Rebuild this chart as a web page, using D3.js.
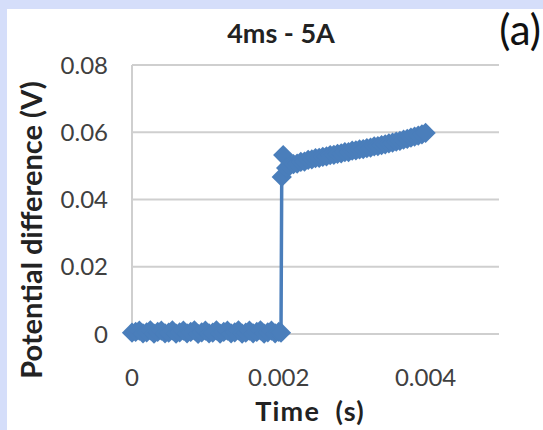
<!DOCTYPE html>
<html>
<head>
<meta charset="utf-8">
<script src="https://cdn.jsdelivr.net/npm/d3@7"></script>
<style>
html,body{margin:0;padding:0;background:#fff;}
svg{display:block;}
text{font-family:Lato,"Open Sans",sans-serif;}
</style>
</head>
<body>
<svg id="c" width="543" height="430"></svg>
<script>
const lowTimes = [0,0.00005,0.0001,0.00015,0.0002,0.00025,0.0003,0.00035,0.0004,0.00045,0.0005,0.00055,0.0006,0.00065,0.0007,0.00075,0.0008,0.00085,0.0009,0.00095,0.001,0.00105,0.0011,0.00115,0.0012,0.00125,0.0013,0.00135,0.0014,0.00145,0.0015,0.00155,0.0016,0.00165,0.0017,0.00175,0.0018,0.00185,0.0019,0.00195,0.002,0.00203];
const lowValues = [0.0004,0.0006,0.0010,0.0002,0.0005,0.0011,0.0001,0.0006,0.0010,0.0002,0.0004,0.0011,0.0001,0.0005,0.0010,0.0002,0.0006,0.0011,0.0000,0.0005,0.0010,0.0002,0.0004,0.0011,0.0001,0.0006,0.0010,0.0002,0.0005,0.0011,0.0001,0.0004,0.0010,0.0002,0.0006,0.0011,0.0001,0.0005,0.0010,0.0002,0.0006,0.0004];
const highTimes = [0.00204,0.00206,0.0021,0.00215,0.0022,0.00225,0.0023,0.00235,0.0024,0.00245,0.0025,0.00255,0.0026,0.00265,0.0027,0.00275,0.0028,0.00285,0.0029,0.00295,0.003,0.00305,0.0031,0.00315,0.0032,0.00325,0.0033,0.00335,0.0034,0.00345,0.0035,0.00355,0.0036,0.00365,0.0037,0.00375,0.0038,0.00385,0.0039,0.00395,0.004];
const highValues = [0.0467,0.0532,0.0494,0.0500,0.0505,0.0507,0.0512,0.0513,0.0518,0.0519,0.0523,0.0524,0.0527,0.0528,0.0532,0.0533,0.0536,0.0537,0.0541,0.0541,0.0545,0.0546,0.0549,0.0550,0.0553,0.0554,0.0558,0.0559,0.0562,0.0564,0.0567,0.0569,0.0572,0.0574,0.0578,0.0580,0.0584,0.0587,0.0590,0.0594,0.0598];
const xTicks = [0,0.002,0.004];
const xTickLabels = ["0","0.002","0.004"];
const yTicks = [0,0.02,0.04,0.06,0.08];
const yTickLabels = ["0","0.02","0.04","0.06","0.08"];
const title = "4ms - 5A";
const panelLabel = "(a)";
const xTitle = "Time  (s)";
const yTitle = "Potential difference (V)";

const times = lowTimes.concat(highTimes);
const values = lowValues.concat(highValues);
const data = times.map((t,i)=>({t, v: values[i]}));

const svg = d3.select("#c");
const W = 543, H = 430;
svg.append("rect").attr("width",W).attr("height",H).attr("fill","#d5defa");
svg.append("rect").attr("x",7).attr("y",9).attr("width",W-7).attr("height",H-9).attr("fill","#ffffff");

const x = d3.scaleLinear().domain([0,0.005]).range([132,499]);
const y = d3.scaleLinear().domain([0,0.08]).range([334,65]);

svg.append("g").selectAll("line").data(yTicks).join("line")
  .attr("x1",132).attr("x2",499)
  .attr("y1",d=>y(d)).attr("y2",d=>y(d))
  .attr("stroke","#cfcfcf").attr("stroke-width",2);
svg.append("line").attr("x1",132).attr("x2",132).attr("y1",y(0.08)).attr("y2",y(0))
  .attr("stroke","#cfcfcf").attr("stroke-width",2);

svg.append("g").selectAll("text").data(yTicks).join("text")
  .attr("x",108).attr("y",d=>y(d)+8.5)
  .attr("text-anchor","end").attr("font-size",24).attr("fill","#404040")
  .text((d,i)=>yTickLabels[i]);
svg.append("g").selectAll("text").data(xTicks).join("text")
  .attr("x",d=>x(d)).attr("y",386)
  .attr("text-anchor","middle").attr("font-size",24).attr("fill","#404040")
  .text((d,i)=>xTickLabels[i]);

const color = "#4a7ebb";
svg.append("path").datum(data)
  .attr("d", d3.line().x(d=>x(d.t)).y(d=>y(d.v)))
  .attr("fill","none").attr("stroke",color).attr("stroke-width",3.5);
const sym = d3.symbol().type(d3.symbolSquare).size(205);
svg.append("g").selectAll("path").data(data).join("path")
  .attr("d", sym)
  .attr("transform", d=>`translate(${x(d.t)},${y(d.v)}) rotate(45)`)
  .attr("fill",color);

svg.append("text").attr("x",281).attr("y",43).attr("text-anchor","middle")
  .attr("font-size",27).attr("font-weight","bold").attr("fill","#222").text(title);
svg.append("text").attr("x",541).attr("y",45).attr("text-anchor","end")
  .attr("font-size",42).attr("fill","#111").text(panelLabel);
svg.append("text").attr("x",310).attr("y",421).attr("text-anchor","middle")
  .attr("font-size",27).attr("font-weight","bold").attr("fill","#222")
  .attr("letter-spacing",1.2)
  .style("white-space","pre").text(xTitle);
svg.append("text").attr("transform","translate(42,230) rotate(-90)").attr("text-anchor","middle")
  .attr("font-size",29).attr("font-weight","bold").attr("fill","#222").text(yTitle);
</script>
</body>
</html>
